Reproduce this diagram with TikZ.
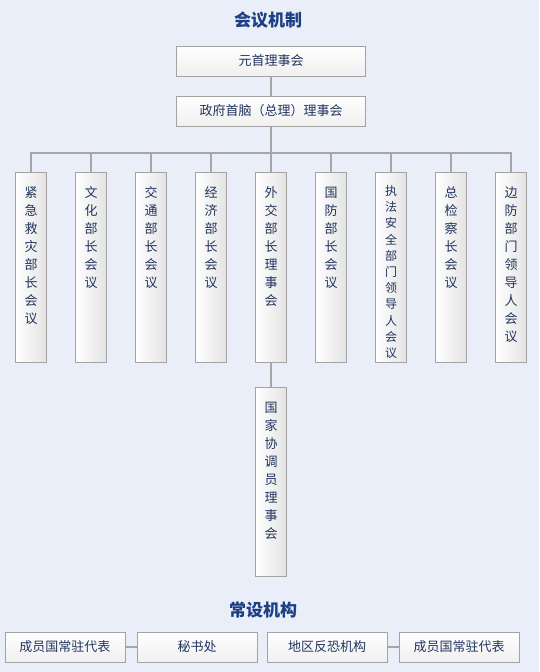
\documentclass[tikz,border=0pt]{standalone}
\usepackage{fontspec}
\setmainfont{Noto Sans CJK SC}
\XeTeXlinebreaklocale "zh"
\XeTeXlinebreakskip=0pt plus 1pt
\definecolor{bg}{HTML}{E9EEF8}
\definecolor{boxline}{HTML}{A3A3A3}
\definecolor{linkgray}{HTML}{A6A6A6}
\definecolor{titleblue}{HTML}{1C3F86}
\definecolor{textblue}{HTML}{22355E}
\tikzset{
  hbox/.style={draw=boxline, line width=1pt, top color=white, bottom color=gray!12,
    minimum width=189pt, minimum height=30pt, inner sep=0pt, text=textblue,
    font=\fontsize{13}{15}\selectfont},
  vbox/.style={draw=boxline, line width=1pt, left color=white, right color=gray!22,
    minimum width=31pt, inner xsep=0pt, inner ysep=0pt, text width=14pt, align=center,
    text height=25pt, text depth=165pt, anchor=north, text=textblue,
    font=\fontsize{13}{18}\selectfont},
  sbox/.style={hbox, minimum width=120pt},
  link/.style={draw=linkgray, line width=2pt},
  heading/.style={text=titleblue, font=\fontsize{17}{20}\selectfont\bfseries}
}

\begin{document}
\begin{tikzpicture}[x=1pt, y=-1pt]
\fill[bg] (0,0) rectangle (539,672);
\node[heading] (mech) at (268,20) {会议机制};
\node[hbox] (heads) at (271,61) {元首理事会};
\node[hbox] (govt) at (271,111) {政府首脑（总理）理事会};
\draw[link] (heads) -- (govt);
\coordinate (bus) at (271,153);
\draw[link] (govt) -- (bus);
\foreach \x/\name/\txt in {31/emerg/紧急救灾部长会议, 91/cult/文化部长会议,
    151/transp/交通部长会议, 211/econ/经济部长会议, 271/fm/外交部长理事会,
    331/def/国防部长会议, 451/proc/总检察长会议, 511/border/边防部门领导人会议} {
  \node[vbox] (\name) at (\x,172) {\txt};
  \draw[link] (bus) -| (\name);
}
\node[vbox, text height=23pt, text depth=167pt, font=\fontsize{12}{16.2}\selectfont]
  (law) at (391,172) {执法安全部门领导人会议};
\draw[link] (bus) -| (law);
\node[vbox, text depth=164pt] (coord) at (271,387) {国家协调员理事会};
\draw[link] (fm) -- (coord);

\node[heading] (perm) at (263,610) {常设机构};
\node[sbox] (rep1) at (65,647) {成员国常驻代表};
\node[sbox] (sec) at (197,647) {秘书处};
\node[sbox] (rats) at (327,647) {地区反恐机构};
\node[sbox] (rep2) at (459,647) {成员国常驻代表};
\draw[link] (rep1) -- (sec);
\draw[link] (rats) -- (rep2);
\end{tikzpicture}
\end{document}
